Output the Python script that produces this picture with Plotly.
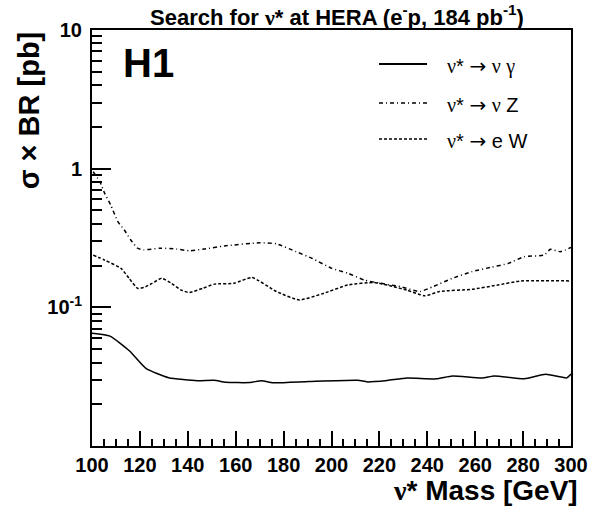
import plotly.graph_objects as go

# ---- data ----
mass_gamma = [100, 107.5, 115.7, 122.5, 132, 144, 151, 155.8, 166, 170.7, 175.6, 190.6,
              211, 215, 223.3, 231.5, 243.7, 250.5, 262.8, 268, 280.5, 289.4, 298.2, 300]
xs_gamma = [0.065, 0.062, 0.0484, 0.0363, 0.0311, 0.0296, 0.0298, 0.0288, 0.0287, 0.0296,
            0.0286, 0.0292, 0.0298, 0.029, 0.0297, 0.0309, 0.0305, 0.032, 0.0309, 0.032,
            0.0305, 0.0329, 0.031, 0.033]

mass_z = [100.5, 103.3, 105.3, 107.8, 110.8, 113.5, 116.2, 119, 121.7, 128.5, 135.3, 140.7,
          146.8, 155.2, 170.1, 177, 185.2, 192, 200.1, 206.9, 213.8, 220.6, 228.8, 236.9,
          242.4, 250.5, 258.7, 266.9, 273.7, 280.5, 288.7, 291.4, 295.5, 300]
xs_z = [0.95, 0.805, 0.664, 0.547, 0.415, 0.361, 0.306, 0.267, 0.26, 0.267, 0.263, 0.256,
        0.263, 0.277, 0.292, 0.287, 0.252, 0.225, 0.191, 0.176, 0.157, 0.149, 0.141, 0.13,
        0.141, 0.162, 0.181, 0.195, 0.207, 0.232, 0.238, 0.262, 0.252, 0.27]

mass_w = [100.5, 105.3, 112.1, 115.5, 119, 121.7, 125.1, 129.1, 133.2, 137.3, 140.7, 146.2,
          151.1, 159.3, 166.8, 177, 186.5, 196, 206.9, 217.8, 226, 231.5, 239, 245.1,
          258.7, 269.6, 279.1, 300]
xs_w = [0.238, 0.219, 0.191, 0.162, 0.137, 0.139, 0.149, 0.162, 0.149, 0.133, 0.128, 0.137,
        0.147, 0.149, 0.164, 0.13, 0.113, 0.125, 0.145, 0.151, 0.141, 0.133, 0.121, 0.13,
        0.135, 0.145, 0.155, 0.155]

SERIF = "Liberation Serif"
ARROW = "DejaVu Sans"
def g(ch):
    return f'<span style="font-family:{SERIF}">{ch}</span>'
def arr():
    return f'<span style="font-family:{ARROW}">\u2192</span>'

legend_labels = [f"{g('\u03bd')}* {arr()} {g('\u03bd')} {g('\u03b3')}",
                 f"{g('\u03bd')}* {arr()} {g('\u03bd')} Z",
                 f"{g('\u03bd')}* {arr()} e W"]
x_tickvals = [100, 120, 140, 160, 180, 200, 220, 240, 260, 280, 300]
y_tickvals = [0.1, 1, 10]
y_ticktext = ["10<sup>-1</sup>", "1", "10"]

FONT = "Liberation Sans, Arial, sans-serif"
dashes = ["solid", "4px,3px,1px,3px", "3px,2px"]

fig = go.Figure()
for xs, ys, d in [(mass_gamma, xs_gamma, dashes[0]), (mass_z, xs_z, dashes[1]), (mass_w, xs_w, dashes[2])]:
    fig.add_trace(go.Scatter(x=xs, y=ys, mode="lines", showlegend=False,
                             line=dict(color="black", width=1.5, dash=d, shape="spline", smoothing=0.5)))

# geometry of plot area in pixels
W, H = 600, 514
L, R, T, B = 92, 581, 30, 446
pw, ph = R - L, B - T
def px(xp): return (xp - L) / pw
def py(yp): return (B - yp) / ph

minor_y = [m * 10 ** e for e in (-2, -1, 0) for m in range(2, 10)]

fig.update_layout(
    width=W, height=H, margin=dict(l=L, r=W - R, t=T, b=H - B),
    paper_bgcolor="white", plot_bgcolor="white",
    font=dict(family=FONT, color="black"),
    title=dict(text=f"Search for {g('\u03bd')}* at HERA (e<sup>-</sup>p, 184 pb<sup>-1</sup>)",
               x=337 / W, xanchor="center", y=1 - 17 / H, yanchor="middle",
               font=dict(size=22, family=FONT, weight="bold")),
    xaxis=dict(range=[100, 300], showgrid=False, zeroline=False, showline=True, linecolor="black",
               linewidth=2, mirror=True, ticks="inside", ticklen=15, tickwidth=1.5, tickcolor="black",
               tickvals=x_tickvals, tickfont=dict(size=20, family=FONT, weight="bold"),
               minor=dict(ticks="inside", ticklen=7, tickwidth=1.5, tickcolor="black", dtick=5, tick0=100,
                          showgrid=False)),
    yaxis=dict(type="log", range=[-2, 1], showgrid=False, zeroline=False, showline=True, linecolor="black",
               linewidth=2, mirror=True, ticks="inside", ticklen=19, tickwidth=1.5, tickcolor="black",
               tickvals=y_tickvals, ticktext=y_ticktext, ticklabelstandoff=4,
               tickfont=dict(size=20, family=FONT, weight="bold"),
               minor=dict(ticks="inside", ticklen=10, tickwidth=1.5, tickcolor="black", tickvals=minor_y,
                          showgrid=False)),
)

annotations = [
    dict(text="H1", x=px(122), y=py(63), xanchor="left", yanchor="middle",
         font=dict(size=40, family=FONT, weight="bold")),
    dict(text=f"{g('\u03bd')}* Mass [GeV]", x=px(590), y=py(490), xanchor="right", yanchor="middle",
         font=dict(size=28, family=FONT, weight="bold")),
    dict(text="\u03c3\u00a0\u00d7\u00a0BR [pb]", x=px(28), y=py(29), xanchor="center", yanchor="top",
         textangle=-90, font=dict(size=29, family=FONT, weight="bold")),
]
shapes = []
leg_y = [64, 103, 139]
for lbl, d, yy in zip(legend_labels, dashes, leg_y):
    shapes.append(dict(type="line", xref="paper", yref="paper", x0=px(385), x1=px(434), y0=py(yy), y1=py(yy),
                       line=dict(color="black", width=1.5 if d != "solid" else 2, dash=d)))
    annotations.append(dict(text=lbl, x=px(452), y=py(yy + 2), xanchor="left", yanchor="middle",
                            font=dict(size=20, family=FONT)))
for a in annotations:
    a.update(xref="paper", yref="paper", showarrow=False)
fig.update_layout(annotations=annotations, shapes=shapes)

fig.write_html("out.html")
